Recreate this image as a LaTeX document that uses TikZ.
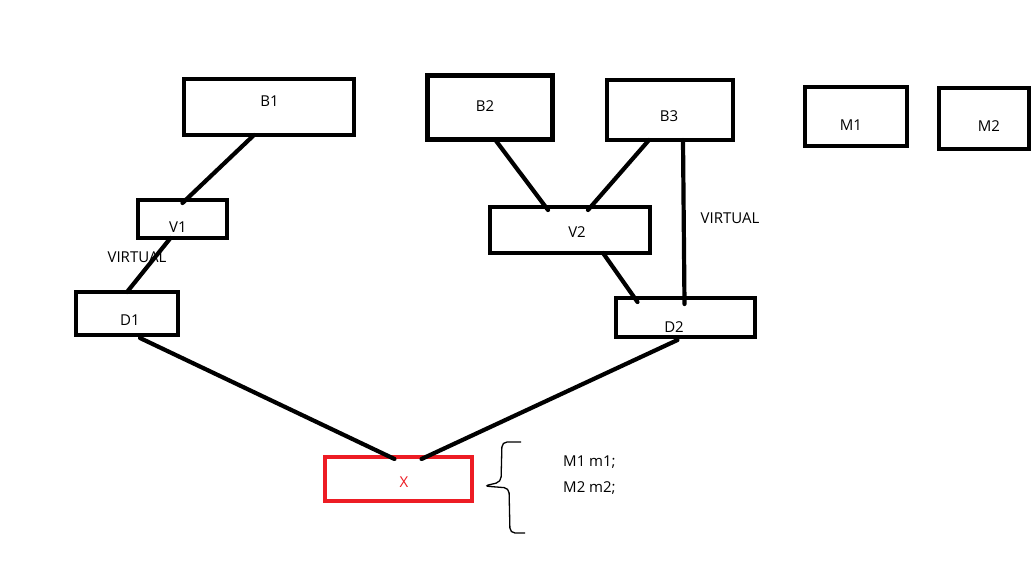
\documentclass[tikz,border=0pt]{standalone}
\usepackage{fontspec}
\setmainfont{Open Sans}
\usepackage{xcolor}
\definecolor{paintred}{HTML}{ED1C24}

\begin{document}
\begin{tikzpicture}[x=1pt, y=-1pt,
	box/.style={fill=white, draw=black, shape=rectangle, line width=4.4pt, outer sep=0pt, inner sep=0pt},
	txt/.style={font=\fontsize{15}{18}\selectfont, text=black, inner sep=0pt},
	wire/.style={draw=black, line width=4.2pt, line cap=round}]
	\useasboundingbox (0,0) rectangle (1033,560);
	% boxes
	\node [box, minimum width=170pt, minimum height=56pt, label={[txt, xshift=0.5pt, yshift=6pt]center:B1}] (b1) at (269, 107) {};
	\node [box, minimum width=125pt, minimum height=64pt, label={[txt, xshift=-5pt, yshift=1.5pt]center:B2}] (b2) at (490, 107.5) {};
	\node [box, minimum width=126pt, minimum height=60pt, label={[txt, xshift=-1pt, yshift=-6pt]center:B3}] (b3) at (670, 110) {};
	\node [box, minimum width=102pt, minimum height=59pt, label={[txt, xshift=-5pt, yshift=-8.5pt]center:M1}] (m1) at (856, 116.5) {};
	\node [box, minimum width=90pt, minimum height=61pt, label={[txt, xshift=5pt, yshift=-7.5pt]center:M2}] (m2) at (984, 118.5) {};
	\node [box, minimum width=89pt, minimum height=38pt, label={[txt, xshift=-4.5pt, yshift=-8pt]center:V1}] (v1) at (182.5, 219) {};
	\node [box, minimum width=160pt, minimum height=46pt, label={[txt, xshift=7pt, yshift=-2pt]center:V2}] (v2) at (570, 230) {};
	\node [box, minimum width=102pt, minimum height=43pt, label={[txt, xshift=3pt, yshift=-6.5pt]center:D1}] (d1) at (127, 313.5) {};
	\node [box, minimum width=139pt, minimum height=39pt, label={[txt, xshift=-11.5pt, yshift=-9.5pt]center:D2}] (d2) at (685.5, 317.5) {};
	\node [box, draw=paintred, minimum width=147pt, minimum height=44pt, label={[txt, text=paintred, xshift=5.5pt, yshift=-3pt]center:X}] (x) at (398.5, 479) {};
	% texts
	\node [txt] (virt1) at (137, 257) {VIRTUAL};
	\node [txt] (virt2) at (730, 218) {VIRTUAL};
	\node [txt, anchor=west] (decl1) at (563, 462) {M1 m1;};
	\node [txt, anchor=west] (decl2) at (563, 488) {M2 m2;};
	% links
	\draw [wire] ([xshift=-15pt]b1.south) to ([yshift=-3pt]v1.north);
	\draw [wire] ([xshift=-12pt]v1.south) to (d1.north);
	\draw [wire] ([xshift=5pt]b2.south) to ([xshift=-22pt, yshift=-3pt]v2.north);
	\draw [wire] ([xshift=-21pt]b3.south) to ([xshift=18pt, yshift=-3pt]v2.north);
	\draw [wire] ([xshift=13pt]b3.south) to ([xshift=-1pt, yshift=-6pt]d2.north);
	\draw [wire] ([xshift=33pt]v2.south) to ([xshift=-48pt, yshift=-4pt]d2.north);
	\draw [wire] ([xshift=13pt, yshift=-3pt]d1.south) to ([xshift=-4pt, yshift=-2pt]x.north);
	\draw [wire] ([xshift=-8pt, yshift=-3pt]d2.south) to ([xshift=23pt, yshift=-2pt]x.north);
	% brace
	\draw [line width=1.3pt, rounded corners=5pt] (521, 442) -- (502, 442) -- (501, 482) -- (484, 486) -- (509, 488) -- (510, 533) -- (525, 533);
\end{tikzpicture}
\end{document}
